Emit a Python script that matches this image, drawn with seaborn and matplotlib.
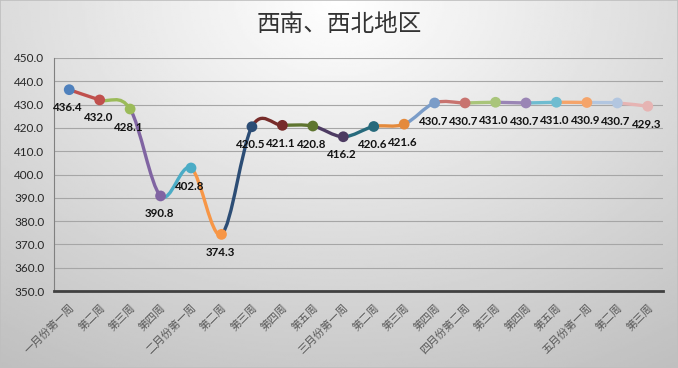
import numpy as np
import pandas as pd
import matplotlib
matplotlib.use("Agg")
import matplotlib.pyplot as plt
from matplotlib.path import Path
from matplotlib.patches import PathPatch, Rectangle
import seaborn as sns

# ---- data ----
categories = ["一月份第一周", "第二周", "第三周", "第四周",
              "二月份第一周", "第二周", "第三周", "第四周", "第五周",
              "三月份第一周", "第二周", "第三周", "第四周",
              "四月份第二周", "第三周", "第四周", "第五周",
              "五月份第一周", "第二周", "第三周"]
values = [436.4, 432.0, 428.1, 390.8, 402.8, 374.3, 420.5, 421.1, 420.8, 416.2,
          420.6, 421.6, 430.7, 430.7, 431.0, 430.7, 431.0, 430.9, 430.7, 429.3]
point_colors = ["#4F81BD", "#C0504D", "#9BBB59", "#8064A2", "#4BACC6", "#F79646",
                "#2C4D75", "#772C2A", "#5F7530", "#4D3B62", "#276A7C", "#E48A3C",
                "#7A9CC8", "#C8736F", "#A9C57A", "#9A85B5", "#6EBCD0", "#F5A46A",
                "#B2C6E0", "#E6B4B3"]
title = "西南、西北地区"
yticks = [350, 360, 370, 380, 390, 400, 410, 420, 430, 440, 450]

sns.set_theme(style="white")
plt.rcParams["font.family"] = ["Lato", "Noto Sans CJK SC", "DejaVu Sans"]

W, H = 678, 368
fig = plt.figure(figsize=(W / 100, H / 100), dpi=100)

# background gradient
bg = fig.add_axes([0, 0, 1, 1], zorder=-5)
gx, gy = np.meshgrid(np.linspace(0, 1, 300), np.linspace(0, 1, 200))
d = np.sqrt(((gx - 0.5) / 0.75) ** 2 + (gy / 1.0) ** 2)
grad = np.clip(1.0 - 0.21 * d, 0, 1)
bg.imshow(grad, extent=[0, 1, 1, 0], aspect="auto", cmap="gray", vmin=0, vmax=1)
bg.set_xlim(0, 1)
bg.set_ylim(1, 0)
bg.axis("off")
bg.add_patch(Rectangle((0, 0), 1, 1, fill=False, edgecolor="#BFBFBF", lw=1.2,
                       transform=bg.transAxes))

left, right, top, bottom = 54, 663, 58, 291
ax = fig.add_axes([left / W, 1 - bottom / H, (right - left) / W, (bottom - top) / H])
ax.set_facecolor("none")

df = pd.DataFrame({"x": np.arange(len(values)), "y": values,
                   "c": [str(i) for i in range(len(values))]})

# smoothed segments (Catmull-Rom as cubic Bezier)
xs = np.arange(len(values), dtype=float)
ys = np.array(values, dtype=float)
n = len(values)
for i in range(n - 1):
    p0 = np.array([xs[max(i - 1, 0)], ys[max(i - 1, 0)]])
    p1 = np.array([xs[i], ys[i]])
    p2 = np.array([xs[i + 1], ys[i + 1]])
    p3 = np.array([xs[min(i + 2, n - 1)], ys[min(i + 2, n - 1)]])
    c1 = p1 + (p2 - p0) / 6
    c2 = p2 - (p3 - p1) / 6
    path = Path([p1, c1, c2, p2], [Path.MOVETO, Path.CURVE4, Path.CURVE4, Path.CURVE4])
    ax.add_patch(PathPatch(path, facecolor="none", edgecolor=point_colors[i + 1],
                           lw=2.4, capstyle="round", zorder=2))

sns.scatterplot(data=df, x="x", y="y", hue="c", palette=point_colors, s=60,
                edgecolor="none", legend=False, zorder=3, ax=ax)

for xi, yi in zip(xs, ys):
    ax.annotate(f"{yi:.1f}", (xi, yi), xytext=(-1, -13), textcoords="offset points",
                ha="center", va="center", fontsize=8.3, fontweight="bold",
                color="#111111", family="Lato", zorder=4)

ax.set_xlim(-0.5, n - 0.5)
ax.set_ylim(350, 450)
ax.set_yticks(yticks)
ax.set_yticklabels([f"{v:.1f}" for v in yticks], fontsize=8.5, color="#262626", family="Lato")
ax.set_xticks(xs)
ax.set_xticklabels(categories, rotation=45, ha="right", rotation_mode="anchor",
                   fontsize=7.8, color="#595959", family="Noto Sans CJK SC")
ax.set_xticks(np.arange(-0.5, n, 1.0), minor=True)
ax.tick_params(axis="x", which="major", length=0, pad=8)
ax.tick_params(axis="x", which="minor", length=4, width=1.2, color="#404040", direction="out")
ax.tick_params(axis="y", length=4, width=0.8, color="#808080", direction="out", pad=3)
ax.set_xlabel("")
ax.set_ylabel("")
ax.grid(axis="y", color="#A6A6A6", lw=0.8)
ax.grid(axis="x", visible=False)
ax.set_axisbelow(True)
for s in ["top", "right"]:
    ax.spines[s].set_visible(False)
ax.spines["left"].set_color("#808080")
ax.spines["left"].set_linewidth(0.8)
ax.spines["bottom"].set_color("#404040")
ax.spines["bottom"].set_linewidth(2.0)

fig.text(0.5, 1 - 24 / H, title, ha="center", va="center", fontsize=17,
         color="#333333", family="Noto Sans CJK SC")

fig.savefig("out.png", dpi=100)
